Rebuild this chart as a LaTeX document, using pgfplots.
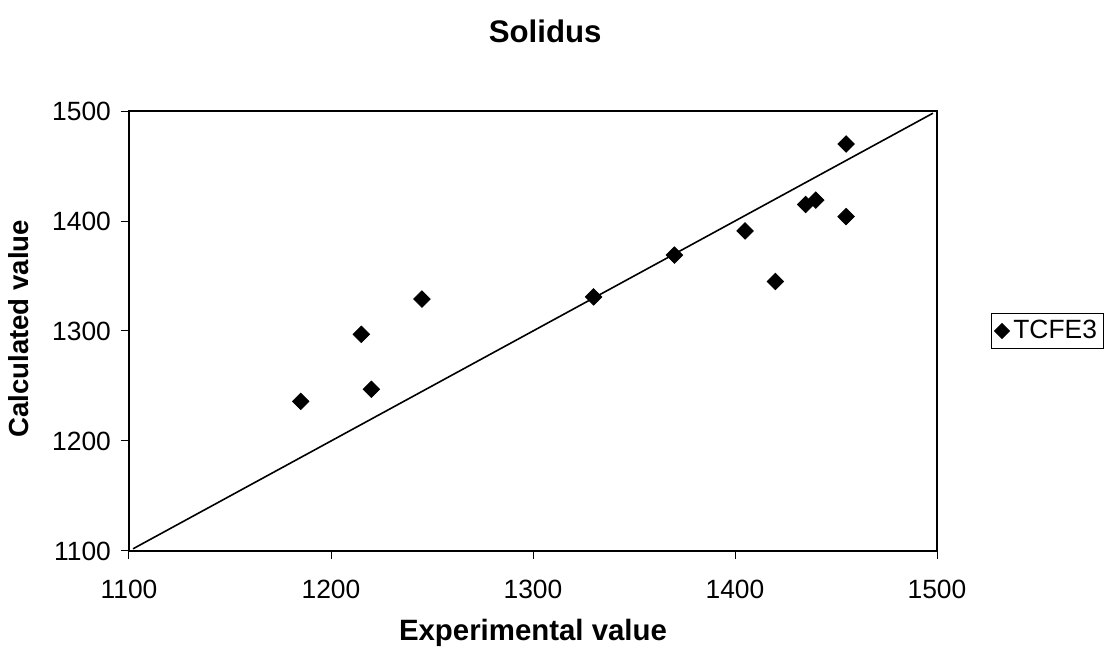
\documentclass[border=0pt]{standalone}
\usepackage{fontspec}
\setmainfont{Liberation Sans}
\usepackage{pgfplots}
\pgfplotsset{compat=1.18}
\begin{document}
\begin{tikzpicture}
\begin{axis}[
  at={(0pt,0pt)}, anchor=south west,
  width=404pt, height=220pt, scale only axis,
  xmin=1100, xmax=1500, ymin=1100, ymax=1500,
  xtick={1100,1200,1300,1400,1500},
  ytick={1100,1200,1300,1400,1500},
  tick align=outside, major tick length=4pt,
  tick style={black, line width=0.5pt},
  xtick pos=bottom, ytick pos=left,
  axis line style={black, line width=0.6pt},
  /pgf/number format/assume math mode=true,
  /pgf/number format/1000 sep={},
  ticklabel style={font=\fontsize{13.2}{15.5}\selectfont},
  xticklabel style={yshift=-7pt},
  yticklabel style={xshift=-1.5pt},
  legend style={at={(rel axis cs:1.067,0.5)}, anchor=west, draw=black, line width=0.5pt,
    font=\fontsize{13.2}{15.5}\selectfont, inner sep=1.5pt, row sep=0pt},
  legend cell align=left,
  clip=false,
]
\addplot[black, line width=0.8pt, forget plot] coordinates {(1102,1102) (1498,1498)};
\addplot[only marks, mark=square*, mark size=2.9pt, mark options={rotate=45, fill=black, draw=black},
  legend image code/.code={\draw[mark=square*, mark size=2.6pt, mark options={rotate=45,fill=black,draw=black}] plot coordinates {(0.16cm,0cm)};}]
 coordinates {
  (1185,1236) (1215,1297) (1220,1247) (1245,1329) (1330,1331) (1370,1369)
  (1405,1391) (1420,1345) (1435,1415) (1440,1419) (1455,1470) (1455,1404)
 };
\addlegendentry{TCFE3}
\draw[black, line width=1.1pt] (rel axis cs:0,0) -- (rel axis cs:1,0);
\node[font=\bfseries\fontsize{15.6}{18}\selectfont] at (rel axis cs:0.515,1.18) {Solidus};
\node[font=\bfseries\fontsize{14.7}{17}\selectfont] at (rel axis cs:0.5,-0.186) {Experimental value};
\node[font=\bfseries\fontsize{13.8}{16}\selectfont, rotate=90] at (rel axis cs:-0.136,0.505) {Calculated value};
\end{axis}
\pgfresetboundingbox
\useasboundingbox (-64.5pt,-50.5pt) rectangle (489pt,275.5pt);
\end{tikzpicture}
\end{document}
